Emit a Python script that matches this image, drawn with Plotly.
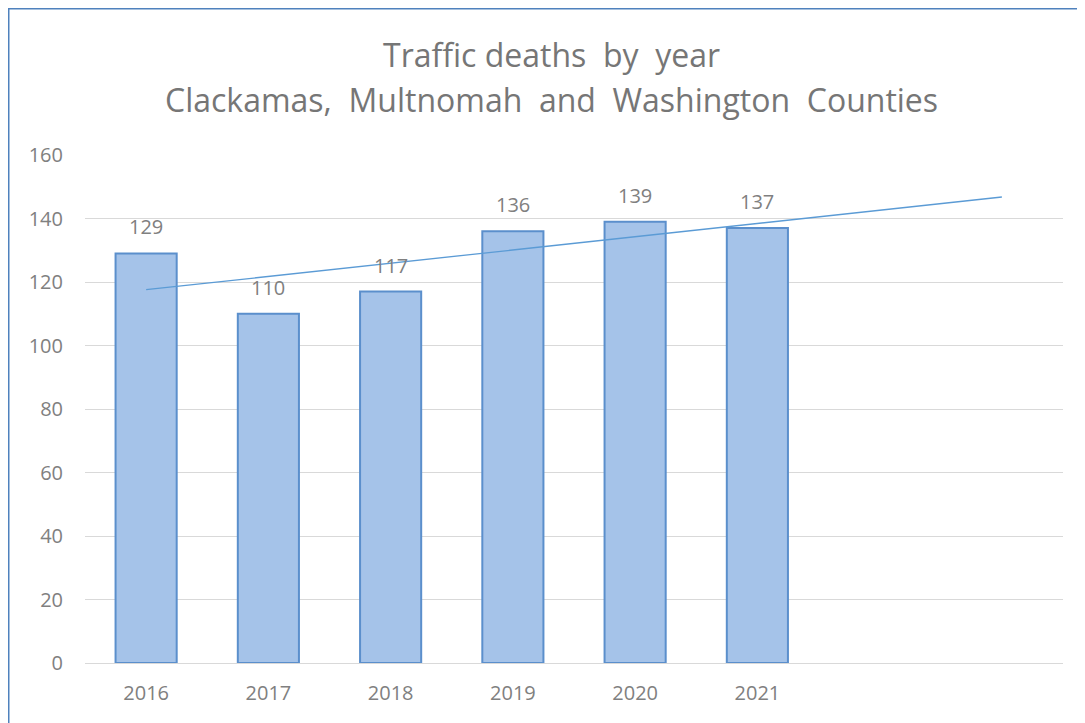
import numpy as np
import plotly.graph_objects as go

categories = ["2016", "2017", "2018", "2019", "2020", "2021", "2022", "2023"]
deaths = [129, 110, 117, 136, 139, 137]
tick_labels = ["2016", "2017", "2018", "2019", "2020", "2021", "", ""]
title_lines = ["Traffic deaths  by  year", "Clackamas,  Multnomah  and  Washington  Counties"]

# Linear trendline fitted to the data (as in the original spreadsheet), extended 2 periods
xi = np.arange(len(deaths))
slope, intercept = np.polyfit(xi, deaths, 1)
trend_x = [0, len(categories) - 1]
trend_y = [intercept + slope * x for x in trend_x]

font_family = "'Open Sans', sans-serif"
grey = "#808080"

W, H = 1077, 715
ML, MR, MT, MB = 77, 22, 147, 60
PW, PH = W - ML - MR, H - MT - MB

fig = go.Figure()
fig.add_trace(go.Bar(
    x=list(range(len(deaths))), y=deaths,
    width=0.5,
    marker=dict(color="#a5c3e9", line=dict(color="#5b8fcc", width=2)),
    hoverinfo="x+y",
))
fig.add_trace(go.Scatter(
    x=trend_x, y=trend_y, mode="lines",
    line=dict(color="#5b9bd5", width=1.3),
    hoverinfo="skip",
))

annotations = []
for i, v in enumerate(deaths):
    annotations.append(dict(
        x=i, y=v, xref="x", yref="y", text=str(v), showarrow=False,
        yanchor="bottom", yshift=11,
        font=dict(size=20, color=grey, family=font_family),
    ))
for line, ypix in zip(title_lines, [47, 92]):
    annotations.append(dict(
        x=(543 - ML) / PW, xref="paper", y=1 + (MT - ypix) / PH, yref="paper",
        text=line, showarrow=False, xanchor="center", yanchor="middle",
        font=dict(size=32, color="#767676", family=font_family),
    ))

fig.update_layout(
    width=W, height=H,
    paper_bgcolor="white", plot_bgcolor="white",
    showlegend=False,
    margin=dict(l=ML, r=MR, t=MT, b=MB),
    font=dict(family=font_family, color=grey),
    annotations=annotations,
    shapes=[dict(type="rect", xref="paper", yref="paper",
                 x0=-(ML - 0.5) / PW, x1=1 + (MR + 20) / PW,
                 y0=-(MB + 20) / PH, y1=1 + (MT - 0.5) / PH,
                 line=dict(color="#4f81bd", width=2), layer="below")],
)
fig.update_xaxes(
    range=[-0.5, len(categories) - 0.5],
    tickmode="array", tickvals=list(range(len(categories))), ticktext=tick_labels,
    showgrid=False, showline=True, linecolor="#d9d9d9", linewidth=1,
    ticks="", tickfont=dict(size=20, color=grey), ticklabelstandoff=12,
)
fig.update_yaxes(
    range=[0, 160], dtick=20,
    showgrid=True, gridcolor="#d9d9d9", gridwidth=1,
    zeroline=False, showline=False, ticks="",
    tickfont=dict(size=20, color=grey), ticklabelstandoff=21,
)
fig.write_html("out.html")
